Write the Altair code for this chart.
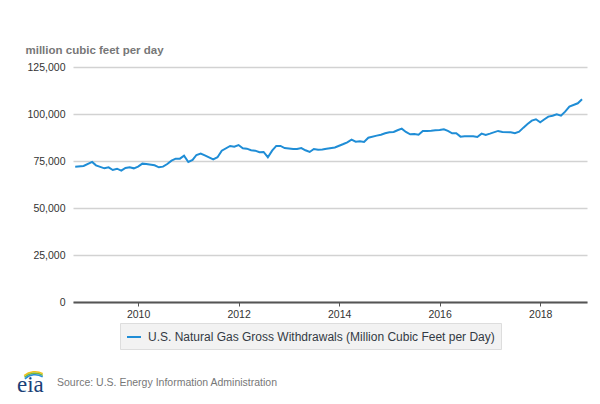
import altair as alt
import pandas as pd

months = [
    "2008-10", "2008-12", "2009-02", "2009-03", "2009-05", "2009-06", "2009-07", "2009-08",
    "2009-09", "2009-10", "2009-11", "2009-12", "2010-01", "2010-02", "2010-03", "2010-05",
    "2010-06", "2010-07", "2010-08", "2010-09", "2010-10", "2010-11", "2010-12", "2011-01",
    "2011-02", "2011-03", "2011-04", "2011-05", "2011-07", "2011-08", "2011-09", "2011-11",
    "2011-12", "2012-01", "2012-02", "2012-03", "2012-04", "2012-05", "2012-06", "2012-07",
    "2012-08", "2012-09", "2012-10", "2012-11", "2012-12", "2013-02", "2013-03", "2013-04",
    "2013-05", "2013-06", "2013-07", "2013-08", "2013-09", "2013-10", "2013-12", "2014-02",
    "2014-03", "2014-04", "2014-05", "2014-06", "2014-07", "2014-08", "2014-10", "2014-11",
    "2014-12", "2015-01", "2015-02", "2015-03", "2015-04", "2015-05", "2015-06", "2015-07",
    "2015-08", "2015-09", "2015-10", "2015-11", "2015-12", "2016-01", "2016-02", "2016-03",
    "2016-04", "2016-05", "2016-06", "2016-07", "2016-08", "2016-09", "2016-10", "2016-11",
    "2016-12", "2017-01", "2017-03", "2017-04", "2017-06", "2017-07", "2017-08", "2017-09",
    "2017-10", "2017-11", "2017-12", "2018-01", "2018-02", "2018-03", "2018-04", "2018-05",
    "2018-06", "2018-07", "2018-08", "2018-10", "2018-11",
]
withdrawals = [
    72000, 72350, 74500, 72700, 71100, 71600, 70200, 70900,
    69850, 71300, 71650, 71100, 72000, 73600, 73400, 72700,
    71650, 72000, 73400, 75200, 76250, 76250, 77850, 74500,
    75550, 78200, 79000, 78000, 75900, 77000, 80500, 83000,
    82600, 83500, 81800, 81550, 80700, 80500, 79650, 79800,
    77000, 80500, 83000, 83000, 81900, 81400, 81400, 81900,
    80700, 79800, 81400, 81000, 81100, 81550, 82200, 84050,
    84950, 86350, 85300, 85500, 85100, 87400, 88500, 89000,
    89750, 90300, 90450, 91350, 92200, 90450, 89200, 89400,
    89000, 91000, 91000, 91100, 91350, 91500, 91900, 91000,
    89750, 89750, 87950, 88100, 88150, 88150, 87800, 89550,
    88850, 89550, 91000, 90450, 90300, 89750, 90600, 92750,
    94700, 96450, 97200, 95600, 97200, 98600, 99100, 99850,
    99100, 101250, 103900, 105700, 107850,
]
y_ticks = [0, 25000, 50000, 75000, 100000, 125000]
x_tick_years = [2010, 2012, 2014, 2016, 2018]
series_name = "U.S. Natural Gas Gross Withdrawals (Million Cubic Feet per Day)"
y_title = "million cubic feet per day"
source_text = "Source: U.S. Energy Information Administration"
logo_text = "eia"

df = pd.DataFrame({
    "date": [m + "-01T00:00:00" for m in months],
    "value": withdrawals,
    "series": series_name,
})

line = alt.Chart(df).mark_line(strokeWidth=2).encode(
    x=alt.X(
        "date:T",
        scale=alt.Scale(domain=[alt.DateTime(year=2008, month=9, date=15),
                                alt.DateTime(year=2018, month=12, date=7)]),
        axis=alt.Axis(
            values=[alt.DateTime(year=y, month=1, date=1) for y in x_tick_years],
            format="%Y", title=None, grid=False,
            domainColor="#555555", domainWidth=2,
            tickColor="#555555", tickSize=4, tickWidth=1,
            labelPadding=3, labelFontSize=10.5, labelColor="#333333",
        ),
    ),
    y=alt.Y(
        "value:Q",
        scale=alt.Scale(domain=[0, 125000], nice=False),
        axis=alt.Axis(
            values=y_ticks, format=",.0f", title=y_title,
            titleAngle=0, titleX=-48, titleY=-14, titleAlign="left",
            titleBaseline="alphabetic", titleFontSize=11.5, titleFontWeight="bold",
            titleColor="#777777", domain=False, ticks=False, labelPadding=8,
            labelFontSize=10.5, labelColor="#333333",
            gridColor="#d2d2d2", gridWidth=1.5,
        ),
    ),
    color=alt.Color(
        "series:N",
        scale=alt.Scale(range=["#1f8dd6"]),
        legend=alt.Legend(
            title=None, orient="none", legendX=47, legendY=256,
            direction="horizontal", symbolType="stroke", symbolStrokeWidth=2,
            symbolSize=196, labelFontSize=12, labelColor="#333a44",
            labelLimit=600, labelOffset=6, padding=6,
            fillColor="#f2f2f2", strokeColor="#dddddd", cornerRadius=0,
        ),
    ),
)

src = alt.Chart(pd.DataFrame({"t": [source_text]})).mark_text(
    align="left", baseline="middle", fontSize=10.5, color="#777777"
).encode(x=alt.value(-16), y=alt.value(316), text="t:N")

logo = alt.Chart(pd.DataFrame({"t": [logo_text]})).mark_text(
    align="left", baseline="alphabetic", fontSize=23, color="#1b3f77",
    font="Liberation Serif"
).encode(x=alt.value(-56), y=alt.value(325), text="t:N")

arc_df = pd.DataFrame({"k": ["a"]})
arc1 = alt.Chart(arc_df).mark_arc(radius=18, radius2=16.5, theta=5.6, theta2=6.75,
                                   color="#f2c218").encode(x=alt.value(-38), y=alt.value(322))
arc2 = alt.Chart(arc_df).mark_arc(radius=16.5, radius2=15, theta=5.55, theta2=6.8,
                                   color="#76b83f").encode(x=alt.value(-38), y=alt.value(322))
arc3 = alt.Chart(arc_df).mark_arc(radius=15, radius2=13.5, theta=5.5, theta2=6.85,
                                   color="#2a8fd8").encode(x=alt.value(-38), y=alt.value(322))

chart = alt.layer(line, src, logo, arc1, arc2, arc3).properties(
    width=514, height=235,
    autosize=alt.AutoSizeParams(type="none"),
    padding={"left": 65, "top": 59, "right": 5, "bottom": 94},
).configure(font="Liberation Sans").configure_view(stroke=None)

chart.save("out.html", embed_options={"renderer": "svg", "actions": False})
